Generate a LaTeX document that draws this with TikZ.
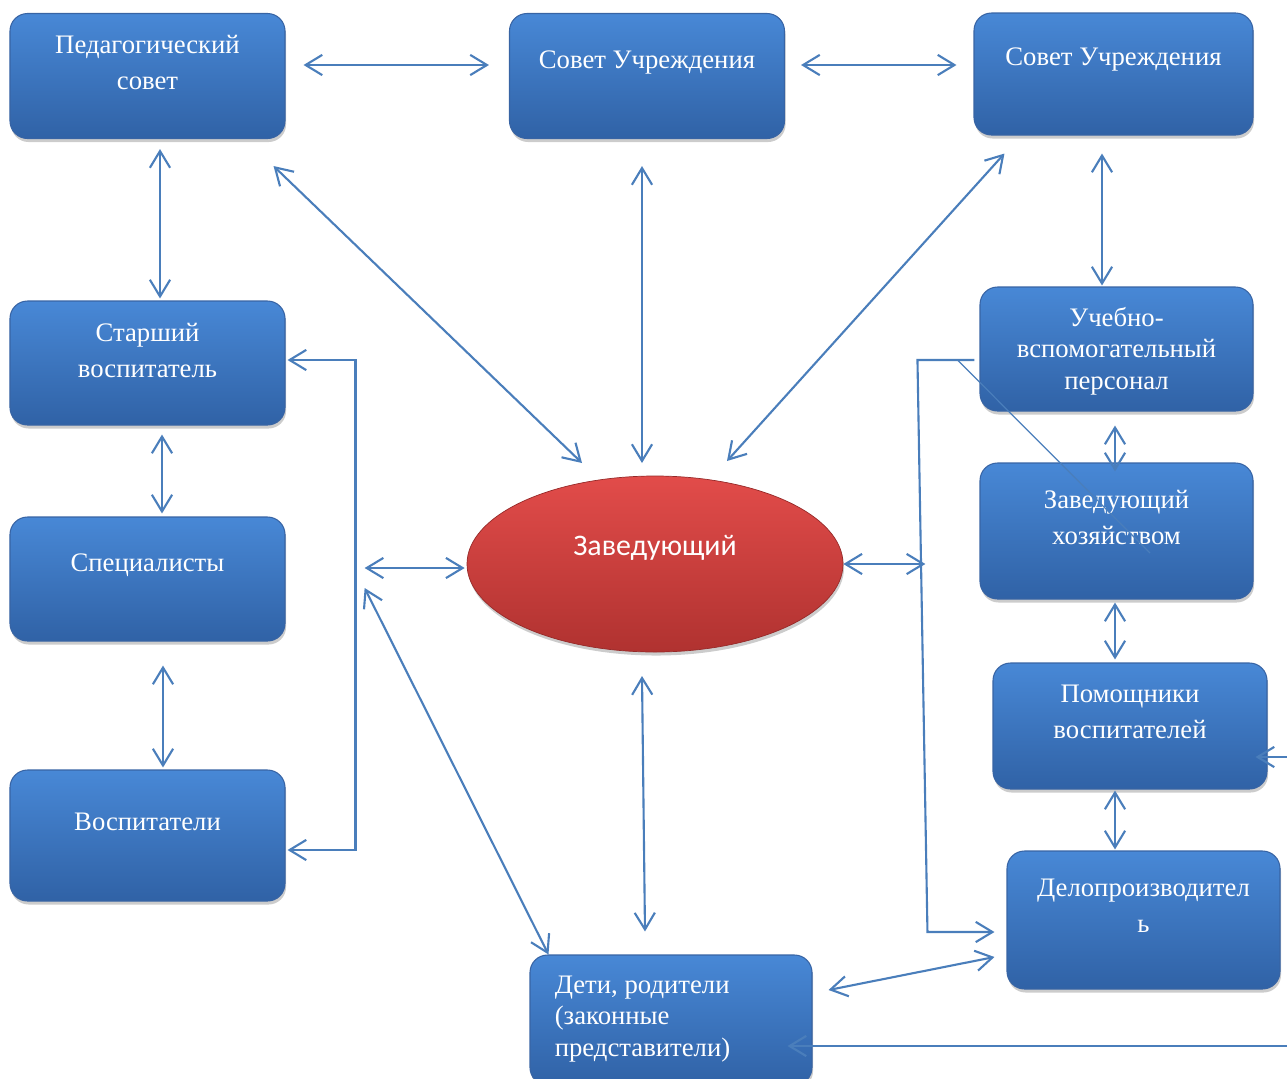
\documentclass[tikz,border=0pt]{standalone}
\usepackage{fontspec}
\setmainfont{Liberation Serif}
\newfontfamily\headfont{Carlito}
\usetikzlibrary{arrows.meta,calc,shapes.geometric,shadows}

\definecolor{linkblue}{RGB}{74,126,187}
\definecolor{boxtop}{RGB}{72,136,214}
\definecolor{boxbot}{RGB}{48,98,166}
\definecolor{boxedge}{RGB}{56,100,164}
\definecolor{headtop}{RGB}{226,76,74}
\definecolor{headbot}{RGB}{176,50,48}

\tikzset{
  box/.style={rectangle, rounded corners=3.5mm, minimum width=55mm, minimum height=25mm,
    inner sep=0pt, draw=boxedge, line width=0.6pt, top color=boxtop, bottom color=boxbot,
    drop shadow={opacity=0.4, shadow xshift=0.6pt, shadow yshift=-2pt}},
  head/.style={ellipse, minimum width=75.2mm, minimum height=35.2mm, inner sep=0pt,
    draw=headbot!85!black, line width=0.4pt, top color=headtop, bottom color=headbot,
    drop shadow={opacity=0.4, shadow xshift=0.6pt, shadow yshift=-2pt}},
  txt/.style={text=white, font=\fontsize{15.2}{20.5}\selectfont, align=center, inner sep=0pt, yshift=#1},
  txt/.default=2.8mm,
  link/.style={draw=linkblue, line width=1.2pt}
}

\begin{document}
\begin{tikzpicture}[x=0.2mm, y=-0.2mm, >={Straight Barb[length=9.5pt,width=11.5pt]}]
   \useasboundingbox (0,0) rectangle (1287,1079);

   \node[box, label={[txt]center:Педагогический\\совет}] (ped) at (147.5,76) {};
   \node[box, label={[txt]center:Совет Учреждения}] (sovet1) at (647,76) {};
   \node[box, minimum width=55.8mm, minimum height=24.4mm, label={[txt=3mm]center:Совет Учреждения}] (sovet2) at (1113.5,74) {};
   \node[box, minimum height=24.8mm, label={[txt=2.5mm]center:Старший\\воспитатель}] (starsh) at (147.5,363) {};
   \node[box, minimum height=24.8mm, label={[txt]center:Специалисты}] (spec) at (147.5,579) {};
   \node[box, minimum height=26.2mm, label={[txt]center:Воспитатели}] (vosp) at (147.5,835.5) {};
   \node[box, minimum width=54.6mm, minimum height=24.8mm,
     label={[txt=-0.4mm, font=\fontsize{15.2}{17.8}\selectfont]center:Учебно-\\вспомогательный\\персонал}] (uvp) at (1116.5,349) {};
   \node[box, minimum width=54.6mm, minimum height=27.2mm, label={[txt]center:Заведующий\\хозяйством}] (zavhoz) at (1116.5,531) {};
   \node[box, minimum width=54.8mm, minimum height=25.2mm, label={[txt]center:Помощники\\воспитателей}] (pomosh) at (1130,726) {};
   \node[box, minimum width=54.6mm, minimum height=27.6mm, label={[txt=2.9mm]center:Делопроизводител\\ь}] (delo) at (1143.5,920) {};
   \node[box, minimum width=56.4mm, minimum height=26mm,
     label={[txt=0.2mm, font=\fontsize{15.2}{17.8}\selectfont, align=left, anchor=west, xshift=5mm]west:{Дети, родители\\(законные\\представители)}}] (deti) at (671,1020) {};
   \node[head, label={[txt=3.2mm, font=\headfont\fontsize{17}{20}\selectfont]center:Заведующий}] (zav) at (655,564) {};

   \draw[link,<->] ($(ped.east)+(18,-11)$) -- ($(sovet1.west)+(-20,-11)$);
   \draw[link,<->] ($(sovet1.east)+(16,-11)$) -- ($(sovet2.west)+(-17,-9)$);
   \draw[link,<->] ($(ped.south)+(12.5,10)$) -- ($(starsh.north)+(12.5,-2)$);
   \draw[link,<->] ($(sovet2.south)+(-11.5,18)$) -- ($(uvp.north)+(-14.5,-1)$);
   \draw[link,<->] ($(ped.south east)+(-12,27)$) -- ($(zav)+(-73,-101)$);
   \draw[link,<->] ($(sovet1.south)+(-5,27)$) -- ($(zav)+(-13,-101)$);
   \draw[link,<->] ($(sovet2.south west)+(31,18)$) -- ($(zav)+(72,-103)$);
   \draw[link,<->] ($(starsh.south)+(14.5,9)$) -- ($(spec.north)+(14.5,-3)$);
   \draw[link,<->] ($(spec.south)+(15.5,24)$) -- ($(vosp.north)+(15.5,-2)$);
   \draw[link,<->] ($(starsh.east)+(2,-3)$) -| ($(starsh.east)+(70,-3)$) |- ($(vosp.east)+(2,14.5)$);

   \draw[link,<->] ($(zav.west)+(-102,4)$) -- ($(zav.west)+(-2,4)$);
   \draw[link,<->] ($(zav.west)+(-102,24)$) -- ($(deti.north west)+(19,0)$);
   \draw[link,<->] ($(zav)+(-13,112)$) -- ($(deti.north)+(-26,-23)$);
   \draw[link,<->] (zav.east) -- ($(zav.east)+(82,0)$);

   \draw[link,->] ($(uvp.west)+(-5,11)$) -- ($(uvp.west)+(-62,11)$) -- ($(delo.west)+(-79,12)$) -- ($(delo.west)+(-12,12)$);
   \draw[draw=linkblue, line width=0.7pt] ($(uvp.west)+(-22,11)$) -- ($(zavhoz)+(33.5,22)$);
   \draw[link,<->] ($(uvp.south)+(-1.5,14)$) -- ($(zavhoz.north)+(-1.5,9)$);
   \draw[link,<->] ($(zavhoz.south)+(-1.5,3)$) -- ($(pomosh.north)+(-15,-3)$);
   \draw[link,<->] ($(pomosh.south)+(-15,1)$) -- ($(delo.north)+(-28.5,-1)$);
   \draw[link,<->] ($(deti.east)+(16,-30)$) -- ($(delo.west)+(-12,37)$);

   \coordinate (inP) at (1290,757);
   \coordinate (inD) at (1290,1046);
   \draw[link,->] (inP) -- ($(pomosh.east)+(-12,31)$);
   \draw[link,->] (inD) -- ($(deti.east)+(-25,26)$);
\end{tikzpicture}
\end{document}
